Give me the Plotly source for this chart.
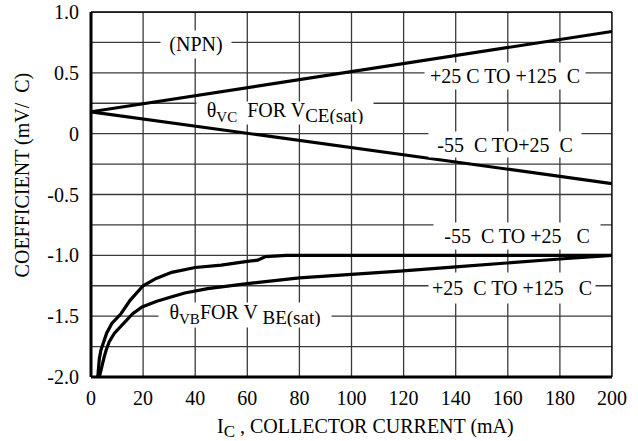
import plotly.graph_objects as go

# ---- data ----
vce_x = [0, 200]
vce_hot_y = [0.18, 0.84]    # +25 C TO +125 C
vce_cold_y = [0.18, -0.41]  # -55 C TO +25 C

vbe_cold_x = [2.6, 3.2, 3.8, 5, 6, 8, 11.5, 15, 20, 25, 31, 40, 45, 50, 60, 64, 67, 75, 90, 120, 160, 200]
vbe_cold_y = [-2.0, -1.85, -1.78, -1.70, -1.64, -1.56, -1.48, -1.37, -1.25, -1.19, -1.14, -1.10, -1.09,
              -1.08, -1.05, -1.04, -1.01, -1.0, -1.0, -1.0, -1.0, -1.0]

vbe_hot_x = [3.2, 4, 5, 5.8, 7, 9, 12.8, 16, 19.6, 25, 30.7, 36, 44.8, 60, 80, 100, 118.5, 140, 160, 180, 200]
vbe_hot_y = [-2.0, -1.92, -1.84, -1.78, -1.71, -1.64, -1.55, -1.48, -1.425, -1.38, -1.343, -1.31, -1.274,
             -1.233, -1.186, -1.159, -1.13, -1.095, -1.06, -1.03, -1.0]

x_tick_vals = [0, 20, 40, 60, 80, 100, 120, 140, 160, 180, 200]
x_tick_labels = ["0", "20", "40", "60", "80", "100", "120", "140", "160", "180", "200"]
y_tick_vals = [-2.0, -1.5, -1.0, -0.5, 0, 0.5, 1.0]
y_tick_labels = ["-2.0", "-1.5", "-1.0", "-0.5", "0", "0.5", "1.0"]
y_grid_vals = [-2.0, -1.75, -1.5, -1.25, -1.0, -0.75, -0.5, -0.25, 0, 0.25, 0.5, 0.75, 1.0]

FONT = "Liberation Serif"
FS = 20
GRID = "#3a3a3a"


def sub(t, size=15):
    return "<sub><span style='font-size:%dpx'>%s</span></sub>" % (size, t)


fig = go.Figure()
line_style = dict(color="black", width=3.2)
fig.add_trace(go.Scatter(x=vce_x, y=vce_hot_y, mode="lines", line=line_style))
fig.add_trace(go.Scatter(x=vce_x, y=vce_cold_y, mode="lines", line=line_style))
fig.add_trace(go.Scatter(x=vbe_cold_x, y=vbe_cold_y, mode="lines", line=line_style))
fig.add_trace(go.Scatter(x=vbe_hot_x, y=vbe_hot_y, mode="lines", line=line_style))

shapes = []
for xv in x_tick_vals:
    shapes.append(dict(type="line", xref="x", yref="paper", x0=xv, x1=xv, y0=0, y1=1,
                       line=dict(color=GRID, width=1.3), layer="below"))
for yv in y_grid_vals:
    shapes.append(dict(type="line", xref="paper", yref="y", x0=0, x1=1, y0=yv, y1=yv,
                       line=dict(color=GRID, width=1.3), layer="below"))
shapes += [
    dict(type="line", xref="paper", yref="paper", x0=0, x1=1, y0=1, y1=1,
         line=dict(color="black", width=1.3)),
    dict(type="line", xref="paper", yref="paper", x0=1, x1=1, y0=0, y1=1,
         line=dict(color="black", width=1.3)),
    dict(type="line", xref="paper", yref="paper", x0=0, x1=0, y0=0, y1=1,
         line=dict(color="black", width=3)),
    dict(type="line", xref="paper", yref="paper", x0=0, x1=1, y0=0, y1=0,
         line=dict(color="black", width=3)),
]

# text, x, y, box width, box height (px)
labels = [
    ("(NPN)", 40.3, 0.73, 70, 27),
    ("θ" + sub("VC") + "  FOR V" + sub("CE(sat)", 19), 74.5, 0.17, 176, 22),
    ("+25 C TO +125  C", 159.0, 0.475, 160, 26),
    ("-55  C TO+25  C", 158.8, -0.089, 152, 25),
    ("-55  C TO +25   C", 163.5, -0.84, 166, 26),
    ("+25  C TO +125   C", 161.5, -1.268, 166, 30),
    ("θ" + sub("VB") + "FOR V " + sub("BE(sat)", 19), 59.0, -1.49, 172, 24),
]
annotations = []
for t, x, y, w, h in labels:
    annotations.append(dict(text=t, x=x, y=y, xref="x", yref="y", showarrow=False,
                            width=w, height=h, bgcolor="white", borderpad=0,
                            font=dict(family=FONT, size=FS, color="black")))
annotations.append(dict(text="I" + sub("C", 17) + " , COLLECTOR CURRENT (mA)", x=0.527, y=-0.14,
                        xref="paper", yref="paper", showarrow=False, yanchor="middle",
                        font=dict(family=FONT, size=FS, color="black")))
annotations.append(dict(text="COEFFICIENT (mV/  C)", x=-0.132, y=0.553, xref="paper", yref="paper",
                        showarrow=False, textangle=-90, xanchor="center", yanchor="middle",
                        font=dict(family=FONT, size=FS, color="black")))

fig.update_layout(
    width=638, height=441,
    margin=dict(l=91, r=26, t=12, b=64, autoexpand=False),
    paper_bgcolor="white", plot_bgcolor="white",
    showlegend=False,
    font=dict(family=FONT, size=FS, color="black"),
    shapes=shapes, annotations=annotations,
)
fig.update_xaxes(range=[0, 200], tickvals=x_tick_vals, ticktext=x_tick_labels,
                 showgrid=False, zeroline=False, showline=False, automargin=False,
                 ticks="outside", ticklen=3, tickcolor="rgba(0,0,0,0)",
                 tickfont=dict(family=FONT, size=FS, color="black"))
fig.update_yaxes(range=[-2, 1], tickvals=y_tick_vals, ticktext=y_tick_labels,
                 showgrid=False, zeroline=False, showline=False, automargin=False,
                 ticks="outside", ticklen=7, tickcolor="rgba(0,0,0,0)",
                 tickfont=dict(family=FONT, size=FS, color="black"))

fig.write_html("out.html", config={"displayModeBar": False},
               post_script="document.body.style.margin='0';document.body.style.overflow='hidden';")
